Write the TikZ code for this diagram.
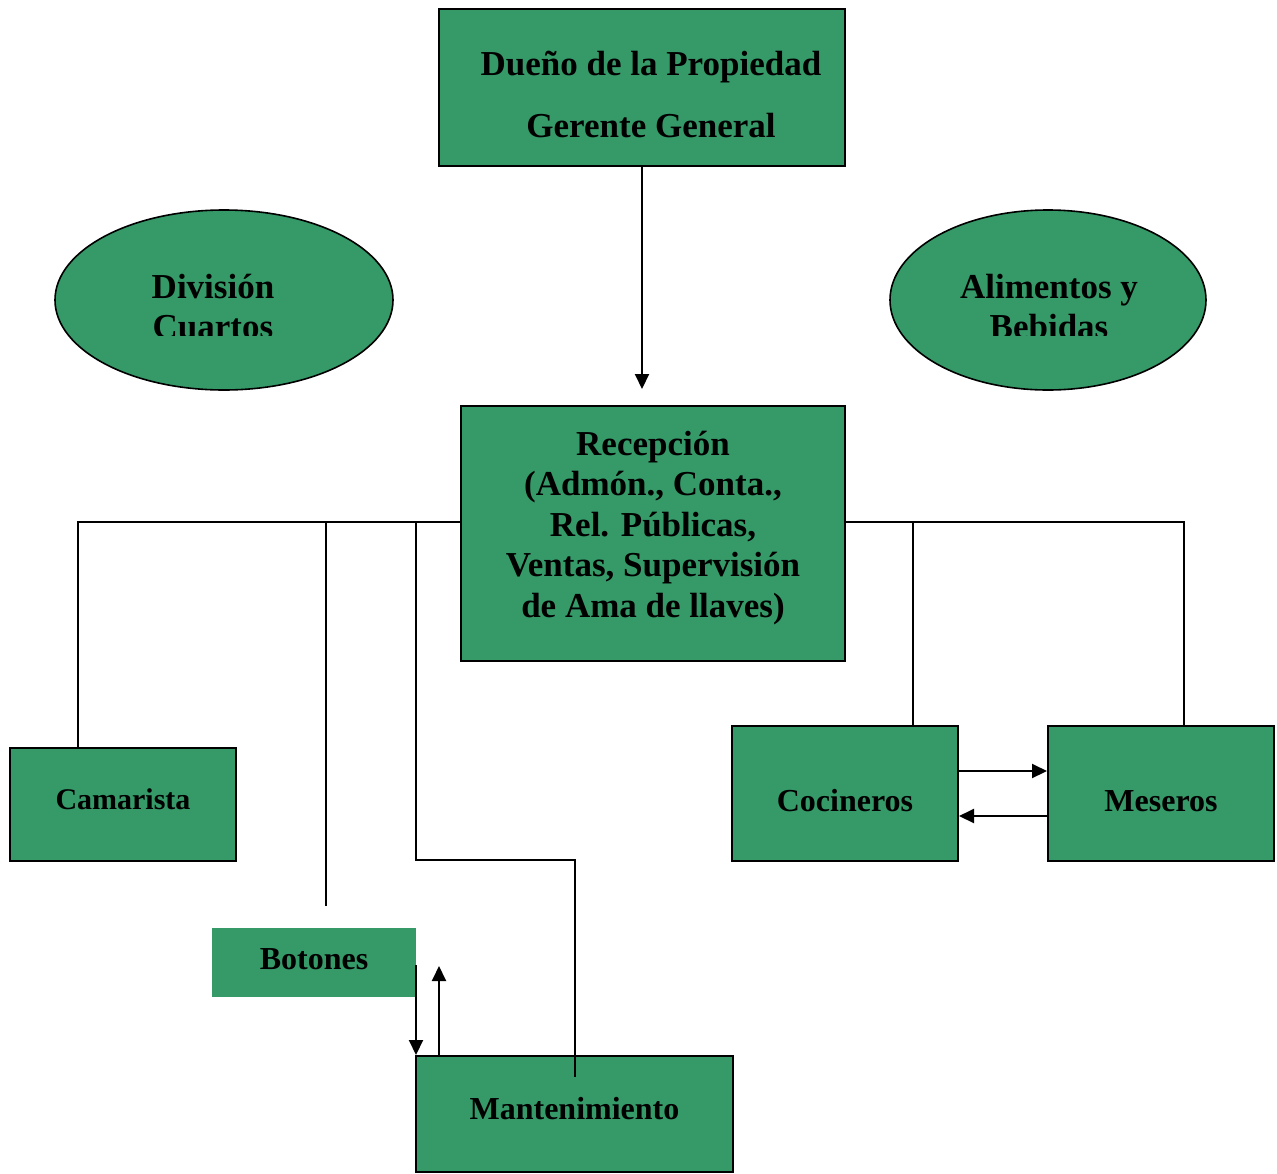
\documentclass[tikz,border=0pt]{standalone}
\usepackage{fontspec}
\setmainfont{Liberation Serif}
\usepackage{tikz}
\usetikzlibrary{arrows.meta,shapes.geometric}
\definecolor{seagreen}{HTML}{359968}
\tikzset{
  ln/.style={line width=2pt,black},
  ar/.style={-{Triangle[length=15pt,width=14pt]},line width=2pt,black},
  box/.style={draw=black,line width=2pt,fill=seagreen,align=center,inner sep=0pt,text depth=0pt,font=\bfseries\fontsize{32}{40}\selectfont},
  oval/.style={ellipse,draw=black,line width=1.6pt,fill=seagreen,inner sep=0pt},
  ovaltxt/.style={align=center,anchor=base,inner sep=0pt,font=\bfseries\fontsize{35}{40}\selectfont}
}
\begin{document}
\begin{tikzpicture}[x=1pt,y=-1pt]
\useasboundingbox (0,0) rectangle (1277,1173);
% boxes
\node[box,minimum width=406pt,minimum height=157pt,text height=99pt,font=\bfseries\fontsize{35}{62}\selectfont] (dueno) at (642,87.5) {\hspace*{18pt}Due\~no de la Propiedad\\\hspace*{18pt}Gerente General};
\node[box,minimum width=384pt,minimum height=255pt,text height=167pt,font=\bfseries\fontsize{35}{40.5}\selectfont] (recep) at (653,533.5) {Recepci\'on\\(Adm\'on., Conta.,\\Rel. P\'ublicas,\\Ventas, Supervisi\'on\\de Ama de llaves)};
\node[box,minimum width=226pt,minimum height=113pt,text height=9pt,font=\bfseries\fontsize{30}{36}\selectfont] (camar) at (123,804.5) {Camarista};
\node[box,draw=none,minimum width=204pt,minimum height=69pt,text height=13pt] (boton) at (314,962.5) {Botones};
\node[box,minimum width=317pt,minimum height=116pt,text height=10pt] (mant) at (574.5,1114) {Mantenimiento};
\node[box,minimum width=226pt,minimum height=135pt,text height=36pt] (coc) at (845,793.5) {Cocineros};
\node[box,minimum width=226pt,minimum height=135pt,text height=36pt] (mes) at (1161,793.5) {Meseros};
% ovals
\node[oval,minimum width=338pt,minimum height=180pt] (divc) at (224,300) {};
\node[oval,minimum width=316pt,minimum height=180pt] (alim) at (1048,300) {};
\begin{scope}
\clip (55,210) rectangle (393,335);
\node[ovaltxt] (divctxt) at (213,338) {Divisi\'on\\Cuartos};
\end{scope}
\begin{scope}
\clip (890,210) rectangle (1206,335);
\node[ovaltxt] (alimtxt) at (1049,338) {Alimentos y\\Bebidas};
\end{scope}
% connectors
\coordinate (arrtip) at (642,389);
\coordinate (busl) at (461,522);
\coordinate (busr) at (845,522);
\coordinate (botend) at (326,906);
\coordinate (mantend) at (575,1077);
\draw[ar] (dueno.south) -- (arrtip);
\draw[ln] (busl) -- (78,522) -- (78,522 |- camar.north);
\draw[ln] (326,522) -- (botend);
\draw[ln] (416,522) -- (416,860) -- (575,860) -- (mantend);
\draw[ln] (busr) -- (1184,522) -- (1184,522 |- mes.north);
\draw[ln] (913,522) -- (913,522 |- coc.north);
\draw[ar] (416,965) -- (416,0 |- mant.north);
\draw[ar] (439,0 |- mant.north) -- (439,966);
\draw[ar] ([yshift=22.5pt]coc.east) -- ([yshift=22.5pt]mes.west);
\draw[ar] ([yshift=-22.5pt]mes.west) -- ([yshift=-22.5pt]coc.east);
\end{tikzpicture}
\end{document}
